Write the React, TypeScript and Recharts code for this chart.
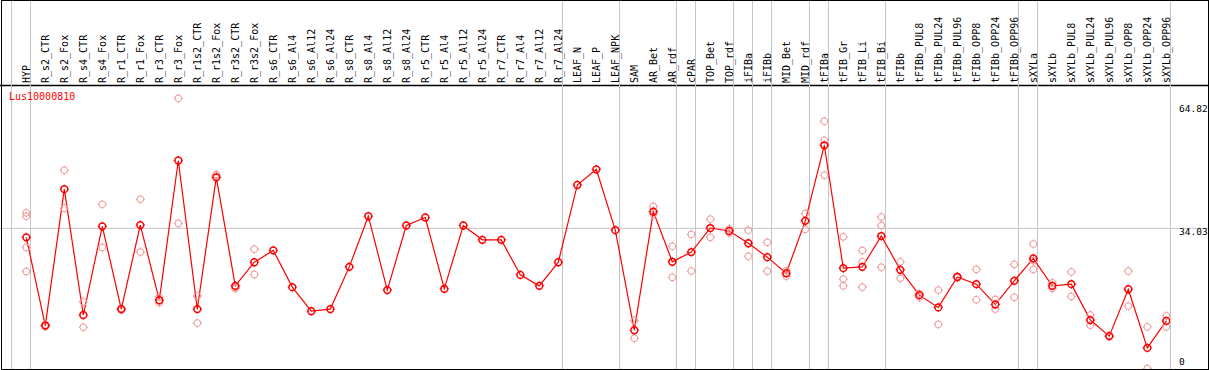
import React from "react";
import {
  ComposedChart,
  Line,
  Scatter,
  XAxis,
  YAxis,
  ReferenceLine,
} from "recharts";

const TITLE = "Lus10000810";

const CATEGORIES = [
  "HYP", "R_s2_CTR", "R_s2_Fox", "R_s4_CTR", "R_s4_Fox", "R_r1_CTR", "R_r1_Fox",
  "R_r3_CTR", "R_r3_Fox", "R_r1s2_CTR", "R_r1s2_Fox", "R_r3s2_CTR", "R_r3s2_Fox",
  "R_s6_CTR", "R_s6_Al4", "R_s6_Al12", "R_s6_Al24", "R_s8_CTR", "R_s8_Al4",
  "R_s8_Al12", "R_s8_Al24", "R_r5_CTR", "R_r5_Al4", "R_r5_Al12", "R_r5_Al24",
  "R_r7_CTR", "R_r7_Al4", "R_r7_Al12", "R_r7_Al24", "LEAF_N", "LEAF_P", "LEAF_NPK",
  "SAM", "AR_Bet", "AR_rdf", "cPAR", "TOP_Bet", "TOP_rdf", "iFIBa", "iFIBb",
  "MID_Bet", "MID_rdf", "tFIBa", "tFIB_Gr", "tFIB_Li", "tFIB_Bi", "tFIBb",
  "tFIBb_PUL8", "tFIBb_PUL24", "tFIBb_PUL96", "tFIBb_OPP8", "tFIBb_OPP24",
  "tFIBb_OPP96", "sXYLa", "sXYLb", "sXYLb_PUL8", "sXYLb_PUL24", "sXYLb_PUL96",
  "sXYLb_OPP8", "sXYLb_OPP24", "sXYLb_OPP96",
];

const MEAN_VALUES = [
  31.9, 11.0, 43.3, 13.5, 34.5, 14.9, 34.8, 17.0, 50.1, 14.9, 46.1, 20.4, 26.0,
  28.8, 20.1, 14.4, 14.9, 24.9, 36.9, 19.4, 34.7, 36.6, 19.7, 34.7, 31.3, 31.3,
  23.0, 20.4, 26.0, 44.3, 48.0, 33.6, 9.9, 38.0, 26.1, 28.4, 34.1, 33.4, 30.5,
  27.2, 23.4, 35.8, 53.7, 24.6, 24.9, 32.2, 24.2, 18.2, 15.3, 22.5, 20.8, 16.0,
  21.6, 26.9, 20.4, 20.8, 12.3, 8.5, 19.6, 5.7, 12.1,
];

const REPLICATES: number[][] = [
  [37.7, 36.9, 29.5, 23.8],
  [10.8, 11.2],
  [47.8, 38.8],
  [16.6, 10.6],
  [39.7, 29.5],
  [15.1, 14.7],
  [40.9, 28.4],
  [17.8, 16.4],
  [64.82, 35.2],
  [18.0, 11.6],
  [46.8, 46.4],
  [20.0, 19.8],
  [29.1, 23.1],
  [], [], [], [], [], [], [], [], [], [], [], [], [], [], [], [], [], [], [],
  [12.2, 8.0],
  [39.2, 37.4],
  [29.8, 22.4],
  [32.6, 23.9],
  [36.2, 31.9],
  [33.9, 32.9],
  [33.6, 27.4],
  [30.7, 23.9],
  [24.0, 22.7],
  [37.5, 33.8],
  [59.4, 54.9, 46.6],
  [32.0, 22.0, 20.4],
  [28.8, 26.1, 20.1],
  [36.7, 34.7, 24.8],
  [26.1, 22.2],
  [18.6, 17.7],
  [19.4, 11.3],
  [22.7, 22.3],
  [24.3, 17.1],
  [17.2, 14.9],
  [25.5, 17.7],
  [30.3, 26.4, 24.3],
  [21.1, 19.8],
  [23.7, 17.9],
  [13.5, 11.1],
  [8.6, 8.4],
  [23.9, 15.6],
  [10.7, 0.8],
  [13.3, 10.7],
];

const Y_TICKS = [0, 34.03, 64.82];
const GRID_VALUE = 34.03;
// indices after which a group separator is drawn
const GROUP_ENDS = [-1, 0, 28, 31, 34, 35, 37, 38, 39, 41, 42, 45, 52, 53, 60];

const lineData = CATEGORIES.map((name, i) => ({ i, name, v: MEAN_VALUES[i] }));
const repData = REPLICATES.flatMap((reps, i) => reps.map((v) => ({ i, v })));
const xTicks = CATEGORIES.map((_, i) => i);

const FONT = "'DejaVu Sans Mono', monospace";
const RED = "#ff0000";
const PINK = "#ee9a9a";
const GRID = "#c4c4c4";

// layout (axis units)
const X_DOMAIN: [number, number] = [-1.384, 60.195];
const X_FULL_RIGHT = 62.25;
const Y_DOMAIN: [number, number] = [0, 67.74];
const Y_TOP_EXT = 88.2;
const HEADER_Y = 67.86;

function Marker({ cx, cy, color, sw }: any) {
  if (cx == null || cy == null) return null;
  const r = 3.4;
  return (
    <g>
      <circle cx={cx} cy={cy} r={r} fill="none" stroke={color} strokeWidth={sw} />
      <line x1={cx} y1={cy - r - 1.2} x2={cx} y2={cy - r + 0.5} stroke={color} strokeWidth={1} />
      <line x1={cx} y1={cy + r - 0.5} x2={cx} y2={cy + r + 1.2} stroke={color} strokeWidth={1} />
      <line x1={cx - r - 1.2} y1={cy} x2={cx - r + 0.5} y2={cy} stroke={color} strokeWidth={1} />
      <line x1={cx + r - 0.5} y1={cy} x2={cx + r + 1.2} y2={cy} stroke={color} strokeWidth={1} />
    </g>
  );
}

function CategoryTick(props: any) {
  const { x, y, payload } = props;
  const label = CATEGORIES[payload.value] ?? "";
  const bx = x + 3.8;
  return (
    <text
      x={bx}
      y={y}
      transform={`rotate(-90 ${bx} ${y})`}
      textAnchor="start"
      fontFamily={FONT}
      fontSize={10}
      fill="#000"
    >
      {label}
    </text>
  );
}

function ValueTick(props: any) {
  const { x, y, payload } = props;
  let by = y + 6.3;
  if (by < 111.6) by = 111.6;
  if (by > 365) by = 365;
  return (
    <text x={x} y={by} textAnchor="start" fontFamily={FONT} fontSize={9.5} fill="#000">
      {String(payload.value)}
    </text>
  );
}

export default function App() {
  return (
    <div
      style={{
        position: "absolute",
        left: 0,
        top: 0,
        width: 1209,
        height: 370,
        overflow: "hidden",
        background: "#fff",
      }}
    >
      <ComposedChart
        width={1209}
        height={372}
        data={lineData}
        margin={{ top: 0, right: 0, bottom: 0, left: 0 }}
      >
        <XAxis
          dataKey="i"
          type="number"
          orientation="top"
          height={86}
          domain={X_DOMAIN}
          allowDataOverflow
          ticks={xTicks}
          interval={0}
          tickLine={false}
          tickSize={0}
          tickMargin={3}
          axisLine={false}
          tick={<CategoryTick />}
        />
        <YAxis
          orientation="right"
          width={39}
          domain={Y_DOMAIN}
          allowDataOverflow
          ticks={Y_TICKS}
          interval={0}
          axisLine={false}
          tickLine={false}
          tickSize={0}
          tickMargin={9}
          tick={<ValueTick />}
        />
        <ReferenceLine
          segment={[
            { x: X_DOMAIN[0], y: GRID_VALUE },
            { x: X_FULL_RIGHT, y: GRID_VALUE },
          ]}
          ifOverflow="visible"
          stroke={GRID}
          strokeWidth={1}
        />
        <ReferenceLine
          segment={[
            { x: X_DOMAIN[0], y: HEADER_Y },
            { x: X_FULL_RIGHT, y: HEADER_Y },
          ]}
          ifOverflow="visible"
          stroke="#000"
          strokeWidth={1.5}
        />
        {GROUP_ENDS.map((k) => (
          <ReferenceLine
            key={`sep${k}`}
            segment={[
              { x: k + 0.22, y: 0 },
              { x: k + 0.22, y: Y_TOP_EXT },
            ]}
            ifOverflow="visible"
            stroke={GRID}
            strokeWidth={1}
          />
        ))}
        <Scatter
          data={repData}
          dataKey="v"
          isAnimationActive={false}
          shape={(p: any) => <Marker cx={p.cx} cy={p.cy} color={PINK} sw={1} />}
        />
        <Line
          dataKey="v"
          stroke={RED}
          strokeWidth={1.2}
          isAnimationActive={false}
          dot={(p: any) => <Marker key={`d${p.index}`} cx={p.cx} cy={p.cy} color={RED} sw={1.5} />}
          activeDot={false}
        />
      </ComposedChart>
      <div
        style={{
          position: "absolute",
          left: 9,
          top: 91,
          fontFamily: FONT,
          fontSize: 10,
          lineHeight: "12px",
          color: RED,
          whiteSpace: "nowrap",
        }}
      >
        {TITLE}
      </div>
      <div
        style={{
          position: "absolute",
          left: 1,
          top: 0,
          width: 1208,
          height: 370,
          border: "1px solid #000",
          boxSizing: "border-box",
          pointerEvents: "none",
        }}
      />
    </div>
  );
}
